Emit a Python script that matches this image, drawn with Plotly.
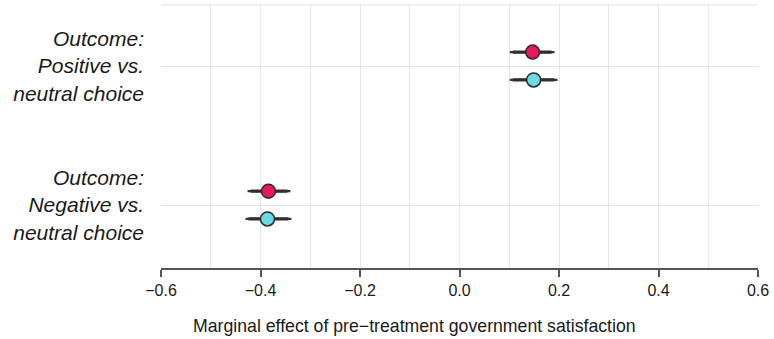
import plotly.graph_objects as go

# Data
groups = ["Outcome:<br>Positive vs.<br>neutral choice", "Outcome:<br>Negative vs.<br>neutral choice"]
group_pos = [1, 0]
series_names = ["Series A", "Series B"]
series_colors = ["#E6195C", "#6CD9E3"]
series_offset = [0.1, -0.1]
estimates = {"Series A": [0.147, -0.384], "Series B": [0.149, -0.386]}
ci95_low = {"Series A": [0.101, -0.426], "Series B": [0.101, -0.430]}
ci95_high = {"Series A": [0.191, -0.340], "Series B": [0.197, -0.338]}
ci90_low = {"Series A": [0.107, -0.420], "Series B": [0.107, -0.424]}
ci90_high = {"Series A": [0.185, -0.346], "Series B": [0.191, -0.344]}
x_ticks = [-0.6, -0.4, -0.2, 0.0, 0.2, 0.4, 0.6]
x_tick_labels = ["\u22120.6", "\u22120.4", "\u22120.2", "0.0", "0.2", "0.4", "0.6"]

fig = go.Figure()
for name, col, off in zip(series_names, series_colors, series_offset):
    for i, g in enumerate(group_pos):
        y = g + off
        fig.add_trace(go.Scatter(x=[ci95_low[name][i], ci95_high[name][i]], y=[y, y], mode="lines",
                                 line=dict(color="#333333", width=2.2), showlegend=False, hoverinfo="skip"))
        fig.add_trace(go.Scatter(x=[ci90_low[name][i], ci90_high[name][i]], y=[y, y], mode="lines",
                                 line=dict(color="#2e2e2e", width=3.2), showlegend=False, hoverinfo="skip"))
    fig.add_trace(go.Scatter(x=estimates[name], y=[g + off for g in group_pos], mode="markers", name=name,
                             marker=dict(color=col, size=14, line=dict(color="#2a2a2a", width=1.5)),
                             showlegend=False))

fig.add_shape(type="line", xref="paper", yref="paper", x0=0, x1=1, y0=1, y1=1,
              line=dict(color="#e3e3e3", width=1))

fig.add_annotation(text="Marginal effect of pre\u2212treatment government satisfaction",
                   xref="paper", yref="paper", x=0.424, y=-0.22, xanchor="center", yanchor="middle",
                   showarrow=False, font=dict(size=17.7, color="#1a1a1a"))

fig.update_layout(
    width=774, height=339,
    margin=dict(l=161, r=12, t=5, b=71),
    plot_bgcolor="white", paper_bgcolor="white",
    font=dict(family="Liberation Sans, Arial, sans-serif", color="#1a1a1a"),
    xaxis=dict(range=[-0.6, 0.6], tickvals=x_ticks, ticktext=x_tick_labels,
               showgrid=True, gridcolor="#e6e6e6", gridwidth=1,
               minor=dict(dtick=0.1, tick0=0, showgrid=True, gridcolor="#e6e6e6", gridwidth=1),
               showline=True, linecolor="#555555", linewidth=1.5,
               ticks="outside", ticklen=7, tickcolor="#555555", tickwidth=1.5,
               tickfont=dict(size=16, color="#1a1a1a"), zeroline=False, fixedrange=True),
    yaxis=dict(range=[-0.453, 1.439], tickvals=group_pos, ticktext=groups,
               showgrid=True, gridcolor="#e6e6e6", gridwidth=1, zeroline=False,
               showline=False, ticks="", ticklabelstandoff=16,
               tickfont=dict(size=21, style="italic", color="#1a1a1a")),
)

fig.write_html("out.html")
